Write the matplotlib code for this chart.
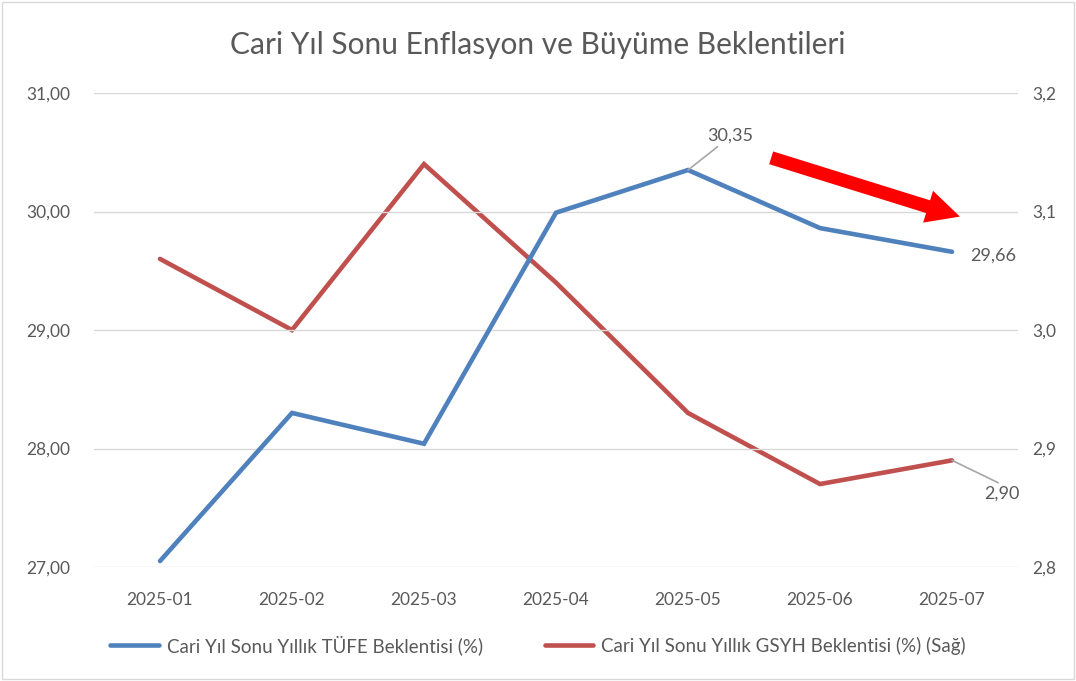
import matplotlib.pyplot as plt
from matplotlib.patches import Rectangle
import numpy as np

plt.rcParams['font.family'] = ['Lato', 'DejaVu Sans']

months = ["2025-01", "2025-02", "2025-03", "2025-04", "2025-05", "2025-06", "2025-07"]
tufe = [27.05, 28.30, 28.04, 29.99, 30.35, 29.86, 29.66]
gsyh = [3.06, 3.00, 3.14, 3.04, 2.93, 2.87, 2.89]

left_ticks = [27, 28, 29, 30, 31]
right_ticks = [2.8, 2.9, 3.0, 3.1, 3.2]

blue = "#4F81BD"
red = "#C0504D"
txt = "#595959"

def tr(v, nd):
	return f"{v:.{nd}f}".replace(".", ",")

fig = plt.figure(figsize=(10.76, 6.81), dpi=100)
ax = fig.add_axes([94/1076, 1-567/681, (1018-94)/1076, (567-93)/681])
ax2 = ax.twinx()

x = np.arange(len(months))
l1, = ax.plot(x, tufe, color=blue, lw=3.3, solid_capstyle='round', solid_joinstyle='miter', zorder=3)
l2, = ax2.plot(x, gsyh, color=red, lw=3.3, solid_capstyle='round', solid_joinstyle='miter', zorder=3)

ax.set_xlim(-0.5, len(months) - 0.5)
ax.set_ylim(left_ticks[0], left_ticks[-1])
ax2.set_ylim(right_ticks[0], right_ticks[-1])
ax.set_yticks(left_ticks)
ax.set_yticklabels([tr(v, 2) for v in left_ticks])
ax2.set_yticks(right_ticks)
ax2.set_yticklabels([tr(v, 1) for v in right_ticks])
ax.set_xticks(x)
ax.set_xticklabels(months)

for a in (ax, ax2):
	for s in a.spines.values():
		s.set_visible(False)
	a.tick_params(length=0, labelsize=12.5, labelcolor=txt)
ax.tick_params(axis='y', pad=17)
ax2.tick_params(axis='y', pad=10)
ax.tick_params(axis='x', pad=18)
ax.grid(axis='y', color="#d9d9d9", lw=1)
ax.set_axisbelow(True)
ax2.set_zorder(ax.get_zorder() - 1)
ax.patch.set_visible(False)

# data labels
i = 4
ax.annotate(tr(tufe[i], 2), xy=(x[i], tufe[i]), xytext=(x[i] + 0.32, tufe[i] + 0.22),
	fontsize=13, color=txt, ha='center', va='bottom',
	arrowprops=dict(arrowstyle='-', color="#a6a6a6", lw=1.2, shrinkA=0, shrinkB=0,
		relpos=(0.3, 0.0)))
i = 6
ax.text(x[i] + 0.14, tufe[i] - 0.03, tr(tufe[i], 2), fontsize=13, color=txt, ha='left', va='center')
ax2.annotate(tr(round(gsyh[i], 1), 2), xy=(x[i], gsyh[i]), xytext=(x[i] + 0.38, gsyh[i] - 0.028),
	fontsize=13, color=txt, ha='center', va='center',
	arrowprops=dict(arrowstyle='-', color="#a6a6a6", lw=1.2, shrinkA=0, shrinkB=0,
		relpos=(0.55, 1.0)))

# red trend arrow
ax.annotate('', xy=(6.08, 29.95), xytext=(4.61, 30.46),
	arrowprops=dict(arrowstyle='simple,head_width=1.5,head_length=1.5,tail_width=0.6',
		color='red', lw=0, mutation_scale=16))

fig.text(0.5, 1-45/681, "Cari Yıl Sonu Enflasyon ve Büyüme Beklentileri",
	ha='center', va='center', fontsize=21.5, color=txt)

fig.legend([l1, l2], ["Cari Yıl Sonu Yıllık TÜFE Beklentisi (%)",
	"Cari Yıl Sonu Yıllık GSYH Beklentisi (%) (Sağ)"],
	loc='center', bbox_to_anchor=(0.5, 1-645/681), ncol=2, frameon=False,
	fontsize=13.5, labelcolor=txt, handlelength=2.6, columnspacing=3.3, handletextpad=0.4)

fig.patches.append(Rectangle((2/1076, 2/681), 1-4/1076, 1-4/681, transform=fig.transFigure,
	fill=False, ec="#d9d9d9", lw=1))

fig.savefig("out.png", dpi=100)
